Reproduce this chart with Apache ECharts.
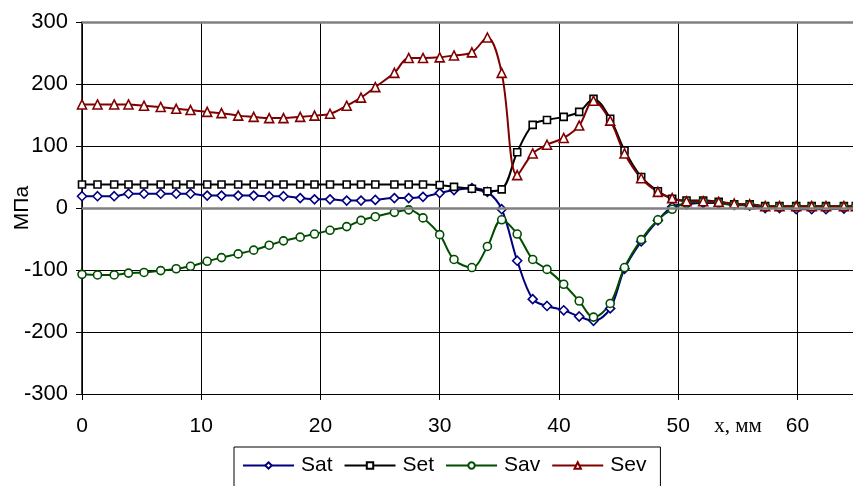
<!DOCTYPE html>
<html><head><meta charset="utf-8">
<script src="https://cdn.jsdelivr.net/npm/echarts@6/dist/echarts.min.js"></script>
<style>html,body{margin:0;padding:0;background:#fff}#c{width:853px;height:486px}</style>
</head><body><div id="c"></div>
<script>
const xVals = [0,1.3,2.7,3.9,5.2,6.6,7.9,9.1,10.5,11.7,13.1,14.4,15.7,16.9,18.3,19.5,20.8,22.2,23.4,24.6,26.2,27.4,28.6,30.0,31.2,32.7,34.0,35.2,36.5,37.8,39.0,40.4,41.7,42.9,44.3,45.5,46.9,48.3,49.5,50.7,52.1,53.4,54.7,56.0,57.3,58.5,59.9,61.2,62.4,63.9,64.9];
const sat = [19,19,19,23,23,23,23,23,20,20,20,20,19,19,16,14,14,12,12,13,16,16,18,24,29,32,26,-2,-85,-147,-158,-165,-175,-182,-162,-98,-54,-20,2,6,8,8,5,4,0,0,-2,-2,-2,-1,-1];
const set = [38,38,38,38,38,38,38,38,38,38,38,38,38,38,38,38,38,38,38,38,38,38,38,37,34,31,27,30,90,134,142,147,155,176,144,93,50,27,15,12,12,10,6,6,3,3,3,3,3,3,3];
const sav = [-107,-108,-108,-105,-104,-101,-98,-94,-86,-80,-74,-68,-60,-53,-47,-42,-36,-30,-20,-14,-7,-3,-16,-43,-83,-96,-62,-19,-42,-83,-99,-123,-150,-176,-154,-96,-51,-19,-2,8,10,8,5,5,2,2,2,2,2,2,2];
const sev = [167,167,167,167,165,163,160,158,155,153,149,147,145,145,147,149,152,165,178,195,218,242,242,243,246,251,275,218,53,88,102,113,133,173,141,88,48,26,16,11,11,10,7,6,3,3,3,3,3,3,3];
const yTicks = [-300,-200,-100,0,100,200,300];
const xTicks = [0,10,20,30,40,50,60];

function pairs(ys){return xVals.map((x,i)=>[x,ys[i]]);}
const chart = echarts.init(document.getElementById('c'));
const font = 'Liberation Sans, Arial, sans-serif';
function mk(name, data, color, symbol, size){
  return {name, type:'line', data:pairs(data), smooth:0.35, symbol, symbolSize:size,
    lineStyle:{color, width:2}, itemStyle:{color:'#fff', borderColor:color, borderWidth:1.6}, color};
}
chart.setOption({
  animation:false,
  grid:{left:82, right:-4, top:22, bottom:92, containLabel:false, outerBoundsMode:'none'},
  xAxis:{type:'value', min:0, max:65, interval:10,
    axisLine:{onZero:false, lineStyle:{color:'#000', width:1}},
    axisTick:{show:true, length:6, lineStyle:{color:'#000'}},
    axisLabel:{color:'#000', fontSize:21, fontFamily:font, margin:22, formatter:v=>xTicks.includes(v)?String(v):''},
    splitLine:{show:true, lineStyle:{color:'#000', width:1}}},
  yAxis:{type:'value', min:-300, max:300, interval:100,
    axisLine:{show:true, lineStyle:{color:'#000', width:1.5}},
    axisTick:{show:true, length:6, lineStyle:{color:'#000'}},
    axisLabel:{color:'#000', fontSize:22, fontFamily:font, margin:14, formatter:v=>yTicks.includes(v)?String(v):''},
    splitLine:{show:true, lineStyle:{color:'#000', width:1}}},
  legend:{left:234, top:447, itemWidth:51, itemHeight:8, itemGap:11,
    borderColor:'#000', borderWidth:1, padding:[8,14,20,8],
    textStyle:{color:'#000', fontSize:21, fontFamily:font, padding:[0,0,0,2]},
    data:['Sat','Set','Sav','Sev']},
  graphic:[
    {type:'text', x:738, y:426, style:{text:'х, мм', align:'center', verticalAlign:'middle', fill:'#000', font:'21px "Liberation Serif", "Times New Roman", serif'}},
    {type:'text', x:22, y:208, rotation:Math.PI/2, style:{text:'МПа', align:'center', verticalAlign:'middle', fill:'#000', font:'21px "Liberation Sans", Arial, sans-serif'}}
  ],
  series:[
    Object.assign(mk('Sat', sat, '#000080', 'diamond', 9), {markLine:{silent:true, symbol:'none', label:{show:false}, lineStyle:{color:'#808080', width:2.5, type:'solid'}, data:[{yAxis:0},{yAxis:300}]}}),
    mk('Set', set, '#000000', 'rect', 7),
    mk('Sav', sav, '#004d00', 'circle', 8),
    mk('Sev', sev, '#800000', 'triangle', 9)
  ]
});
</script></body></html>
